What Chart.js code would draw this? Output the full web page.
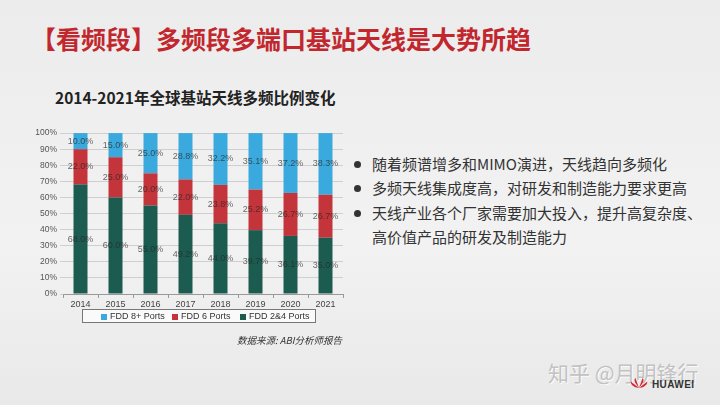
<!DOCTYPE html>
<html>
<head>
<meta charset="utf-8">
<script src="https://cdn.jsdelivr.net/npm/chart.js@4.4.0/dist/chart.umd.min.js"></script>
<style>
  html, body { margin: 0; padding: 0; }
  body {
    width: 720px; height: 405px; overflow: hidden; position: relative;
    background: linear-gradient(180deg, #ececec 0%, #f2f2f2 60%, #e9e9e9 100%);
    font-family: "Noto Sans CJK SC", "Noto Sans", sans-serif;
  }
  .title {
    position: absolute; left: 31px; top: 20px; white-space: nowrap;
    font-size: 25px; font-weight: bold; color: #c1272d;
  }
  .subtitle {
    position: absolute; left: 55px; top: 86px; white-space: nowrap;
    font-size: 15.5px; font-weight: bold; color: #222;
  }
  #chartBox { position: absolute; left: 30px; top: 125px; width: 320px; height: 185px; }
  #legend {
    position: absolute; left: 82px; top: 309px; width: 232px; height: 12px;
    border: 1px solid #777; background: #fafafa;
    font-family: "Liberation Sans", Arial, sans-serif; font-size: 9px; color: #333;
  }
  #legend span.item { position: absolute; top: 0px; line-height: 12px; white-space: nowrap; }
  #legend span.sw { display: inline-block; width: 6px; height: 6px; margin-right: 3px; vertical-align: -0.5px; }
  .bullets {
    position: absolute; left: 352px; top: 152px; font-size: 15px; color: #333; line-height: 24.4px;
    white-space: nowrap;
  }
  .bullets div { position: relative; padding-left: 20px; }
  .bullets div.b::before {
    content: ""; position: absolute; left: 2px; top: 9px; width: 7px; height: 7px; border-radius: 50%; background: #333;
  }
  .source {
    position: absolute; left: 237px; top: 333px; font-size: 9.5px; font-style: italic; color: #333; white-space: nowrap;
  }
  .watermark {
    position: absolute; left: 548px; top: 357px; font-size: 21px; color: #c2c2c2; white-space: nowrap;
    text-shadow: 1px 1px 0 #fafafa;
  }
  .huawei {
    position: absolute; left: 652px; top: 379px; font-family: "Liberation Sans", Arial, sans-serif;
    font-size: 10px; font-weight: bold; color: #333; letter-spacing: 0.4px;
  }
  .logo { position: absolute; left: 628px; top: 376px; width: 22px; height: 13px; }
</style>
</head>
<body>
<div class="title">【看频段】多频段多端口基站天线是大势所趋</div>
<div class="subtitle">2014-2021年全球基站天线多频比例变化</div>
<div id="chartBox"><canvas id="barChart"></canvas></div>
<div id="legend"></div>
<div class="source">数据来源: ABI分析师报告</div>
<div class="bullets">
  <div class="b">随着频谱增多和MIMO演进，天线趋向多频化</div>
  <div class="b">多频天线集成度高，对研发和制造能力要求更高</div>
  <div class="b">天线产业各个厂家需要加大投入，提升高复杂度、</div>
  <div>高价值产品的研发及制造能力</div>
</div>
<div class="watermark">知乎 @月明锋行</div>
<svg class="logo" viewBox="0 0 20 14">
  <path d="M10 13 L6 2 Q4 5 7 9 Z" fill="#d6262e"/>
  <path d="M10 13 L14 2 Q16 5 13 9 Z" fill="#d6262e"/>
  <path d="M10 13 L1 6 Q1 10 6 12 Z" fill="#d6262e"/>
  <path d="M10 13 L19 6 Q19 10 14 12 Z" fill="#d6262e"/>
</svg>
<div class="huawei">HUAWEI</div>
<script>
// 数据
const years = ["2014", "2015", "2016", "2017", "2018", "2019", "2020", "2021"];
const fdd24 = [68.0, 60.0, 55.0, 49.2, 44.0, 39.7, 36.1, 35.0];
const fdd6 = [22.0, 25.0, 20.0, 22.0, 23.8, 25.2, 26.7, 26.7];
const fdd8 = [10.0, 15.0, 25.0, 28.8, 32.2, 35.1, 37.2, 38.3];
const yTicks = [0, 10, 20, 30, 40, 50, 60, 70, 80, 90, 100];

const seriesNames = ["FDD 2&4 Ports", "FDD 6 Ports", "FDD 8+ Ports"];
const seriesColors = ["#1c5b4f", "#c3343b", "#3aa9dd"];
const seriesData = [fdd24, fdd6, fdd8];

// legend, urutan terbalik seperti di gambar
const legendEl = document.getElementById("legend");
const legendX = [18, 89, 157];
[2, 1, 0].forEach(function(idx, i) {
    const s = document.createElement("span");
    s.className = "item";
    s.style.left = legendX[i] + "px";
    s.innerHTML = '<span class="sw" style="background:' + seriesColors[idx] + '"></span>' +
        seriesNames[idx].replace("&", "&amp;");
    legendEl.appendChild(s);
});

// label di tengah tiap segmen
const segmentLabels = {
    id: "segmentLabels",
    afterDatasetsDraw(chart) {
        const ctx = chart.ctx;
        ctx.save();
        ctx.font = "9px 'Liberation Sans', Arial, sans-serif";
        ctx.fillStyle = "rgba(40,40,40,0.7)";
        ctx.textAlign = "center";
        ctx.textBaseline = "middle";
        chart.data.datasets.forEach(function(ds, di) {
            const meta = chart.getDatasetMeta(di);
            meta.data.forEach(function(bar, i) {
                const y = (bar.y + bar.base) / 2;
                ctx.fillText(ds.data[i].toFixed(1) + "%", bar.x, y);
            });
        });
        ctx.restore();
    }
};

const ctx = document.getElementById("barChart").getContext("2d");
new Chart(ctx, {
    type: "bar",
    data: {
        labels: years,
        datasets: seriesData.map(function(d, i) {
            return {
                label: seriesNames[i],
                data: d,
                backgroundColor: seriesColors[i],
                borderWidth: 0,
                barPercentage: 0.4,
                categoryPercentage: 1.0
            };
        })
    },
    options: {
        responsive: true,
        maintainAspectRatio: false,
        animation: false,
        layout: { padding: { top: 8, right: 7, left: 0, bottom: 0 } },
        plugins: {
            legend: { display: false },
            tooltip: { enabled: false }
        },
        scales: {
            x: {
                stacked: true,
                grid: {
                    display: true,
                    drawOnChartArea: false,
                    offset: true,
                    tickLength: 4,
                    color: "#999"
                },
                border: { color: "#999" },
                ticks: {
                    color: "#444",
                    padding: 1,
                    font: { size: 9, family: "'Liberation Sans', Arial, sans-serif" }
                },
                afterFit: function(scale) { scale.height = 16; }
            },
            y: {
                stacked: true,
                min: 0,
                max: 100,
                afterBuildTicks: function(scale) {
                    scale.ticks = yTicks.map(function(v) { return { value: v }; });
                },
                ticks: {
                    color: "#555",
                    padding: 3,
                    font: { size: 8.5, family: "'Liberation Sans', Arial, sans-serif" },
                    callback: function(value) { return value + "%"; }
                },
                grid: { color: "#cfcfcf", tickLength: 3 },
                border: { display: false },
                afterFit: function(scale) { scale.width = 33; }
            }
        }
    },
    plugins: [segmentLabels]
});
</script>
</body>
</html>
